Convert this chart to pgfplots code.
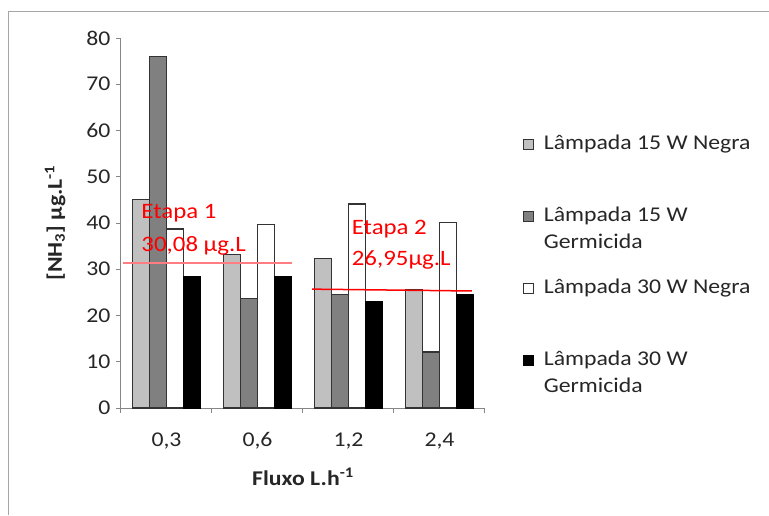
\documentclass[border=0pt]{standalone}
\usepackage{pgfplots}
\pgfplotsset{compat=1.18}
\usepackage{fontspec}
\setmainfont{Carlito}[FakeStretch=1.13]
\definecolor{lg}{HTML}{C0C0C0}
\definecolor{dg}{HTML}{808080}
\definecolor{axg}{HTML}{868686}
\definecolor{tx}{HTML}{262626}
\definecolor{frm}{HTML}{A6A6A6}
\definecolor{lred}{HTML}{FF7C80}
\begin{document}
\begin{tikzpicture}[x=1pt,y=1pt]
\path[use as bounding box] (0,0) rectangle (769,515);
\draw[frm, line width=1pt] (8.5,0) -- (8.5,503) -- (769,503);
\begin{axis}[
  at={(121pt,107pt)}, anchor=south west,
  scale only axis, width=364pt, height=370pt,
  ymin=0, ymax=80, ytick={0,10,...,80},
  xmin=-0.5, xmax=3.5, xtick={0,1,2,3},
  xticklabels={{0,3},{0,6},{1,2},{2,4}},
  minor xtick={-0.5,0.5,1.5,2.5,3.5},
  axis x line*=bottom, axis y line*=left,
  axis line style={axg, line width=1pt, -},
  tick style={axg, line width=1pt},
  tick align=outside,
  major x tick style={draw=none},
  major tick length=5pt, minor tick length=5pt,
  /pgf/number format/assume math mode=true,
  tick label style={font=\fontsize{21}{25}\selectfont, text=tx},
  xticklabel style={yshift=-16pt},
  yticklabel style={xshift=-2pt},
  xlabel={Fluxo L.h\textsuperscript{-1}},
  ylabel={[NH\textsubscript{3}] µg.L\textsuperscript{-1}},
  every axis x label/.style={at={(axis description cs:0.5,-0.186)}, anchor=center, font=\bfseries\fontsize{21}{25}\selectfont, text=tx},
  every axis y label/.style={at={(axis description cs:-0.181,0.5)}, rotate=90, anchor=center, font=\bfseries\fontsize{21}{25}\selectfont, text=tx},
  ybar=0pt, bar width=17pt,
  sq legend/.style={legend image code/.code={\draw[##1, line width=0.8pt] (0pt,-5pt) rectangle (10pt,5pt);}},
  legend cell align=left,
  legend style={draw=none, fill=none, at={(1.104,0.741)}, anchor=north west,
    inner sep=0pt, row sep=52pt, column sep=10pt,
    font=\fontsize{21}{27}\selectfont, text=tx,
    nodes={inner sep=0pt, text height=15pt, text depth=5pt}},
  clip=false,
]
\addplot[fill=lg, draw=black!80, line width=1.2pt, sq legend] coordinates {(0,45.0) (1,33.2) (2,32.4) (3,25.5)};
\addplot[fill=dg, draw=black!80, line width=1.2pt, sq legend] coordinates {(0,76.0) (1,23.6) (2,24.6) (3,12.1)};
\addplot[fill=white, draw=black!80, line width=1.2pt, sq legend] coordinates {(0,38.7) (1,39.6) (2,44.1) (3,40.1)};
\addplot[fill=black, draw=black, line width=1.2pt, sq legend] coordinates {(0,28.5) (1,28.5) (2,23.1) (3,24.6)};
\legend{{Lâmpada 15 W Negra},{\begin{tabular}[t]{@{}l@{}}Lâmpada 15 W\\Germicida\end{tabular}},{Lâmpada 30 W Negra},{\begin{tabular}[t]{@{}l@{}}Lâmpada 30 W\\Germicida\end{tabular}}}
\addplot[sharp plot, lred, line width=2pt, forget plot] coordinates {(-0.478,31.3) (1.379,31.3)};
\addplot[sharp plot, red, line width=1.5pt, forget plot] coordinates {(1.599,25.7) (3.357,25.3)};
\node[anchor=base west, inner sep=0pt, text=red, font=\fontsize{22}{26}\selectfont] at (axis cs:-0.277,40.9) {Etapa 1};
\node[anchor=base west, inner sep=0pt, text=red, font=\fontsize{22}{26}\selectfont] at (axis cs:-0.277,33.8) {30,08 µg.L};
\node[anchor=base west, inner sep=0pt, text=red, font=\fontsize{22}{26}\selectfont] at (axis cs:2.035,37.6) {Etapa 2};
\node[anchor=base west, inner sep=0pt, text=red, font=\fontsize{22}{26}\selectfont] at (axis cs:2.035,30.9) {26,95µg.L};
\end{axis}
\end{tikzpicture}
\end{document}
